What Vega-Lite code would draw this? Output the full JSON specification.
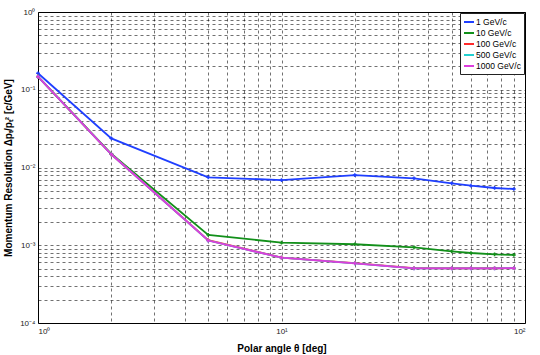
{
  "$schema": "https://vega.github.io/schema/vega-lite/v6.json",
  "width": 487,
  "height": 311,
  "autosize": "none",
  "padding": {"left": 38, "top": 12, "right": 15, "bottom": 32},
  "background": "white",
  "config": {
    "font": "Liberation Sans",
    "view": {"stroke": "black", "strokeWidth": 1},
    "axis": {
      "grid": true,
      "gridColor": "#000",
      "gridDash": [3, 3],
      "gridOpacity": 0.7,
      "gridWidth": 0.8,
      "ticks": false,
      "domain": false,
      "labelFont": "Liberation Sans",
      "labelFontSize": 8,
      "labelColor": "#222",
      "titleFont": "Liberation Sans",
      "titleFontSize": 10,
      "titleFontWeight": "bold",
      "titleColor": "#000"
    }
  },
  "data": {
    "values": [
      {"angle": 1, "res": 0.163, "p": "1 GeV/c"},
      {"angle": 2, "res": 0.0237, "p": "1 GeV/c"},
      {"angle": 5, "res": 0.00748, "p": "1 GeV/c"},
      {"angle": 10, "res": 0.0069, "p": "1 GeV/c"},
      {"angle": 20, "res": 0.0080, "p": "1 GeV/c"},
      {"angle": 35, "res": 0.00726, "p": "1 GeV/c"},
      {"angle": 50, "res": 0.00626, "p": "1 GeV/c"},
      {"angle": 60, "res": 0.00583, "p": "1 GeV/c"},
      {"angle": 75, "res": 0.00545, "p": "1 GeV/c"},
      {"angle": 90, "res": 0.00529, "p": "1 GeV/c"},
      {"angle": 1, "res": 0.148, "p": "10 GeV/c"},
      {"angle": 2, "res": 0.0150, "p": "10 GeV/c"},
      {"angle": 5, "res": 0.00136, "p": "10 GeV/c"},
      {"angle": 10, "res": 0.00108, "p": "10 GeV/c"},
      {"angle": 20, "res": 0.00103, "p": "10 GeV/c"},
      {"angle": 35, "res": 0.00094, "p": "10 GeV/c"},
      {"angle": 50, "res": 0.000835, "p": "10 GeV/c"},
      {"angle": 60, "res": 0.000795, "p": "10 GeV/c"},
      {"angle": 75, "res": 0.000764, "p": "10 GeV/c"},
      {"angle": 90, "res": 0.00075, "p": "10 GeV/c"},
      {"angle": 1, "res": 0.147, "p": "100 GeV/c"},
      {"angle": 2, "res": 0.0148, "p": "100 GeV/c"},
      {"angle": 5, "res": 0.00116, "p": "100 GeV/c"},
      {"angle": 10, "res": 0.000695, "p": "100 GeV/c"},
      {"angle": 20, "res": 0.000588, "p": "100 GeV/c"},
      {"angle": 35, "res": 0.000507, "p": "100 GeV/c"},
      {"angle": 50, "res": 0.000506, "p": "100 GeV/c"},
      {"angle": 60, "res": 0.000506, "p": "100 GeV/c"},
      {"angle": 75, "res": 0.000506, "p": "100 GeV/c"},
      {"angle": 90, "res": 0.000507, "p": "100 GeV/c"},
      {"angle": 1, "res": 0.147, "p": "500 GeV/c"},
      {"angle": 2, "res": 0.0148, "p": "500 GeV/c"},
      {"angle": 5, "res": 0.00115, "p": "500 GeV/c"},
      {"angle": 10, "res": 0.000692, "p": "500 GeV/c"},
      {"angle": 20, "res": 0.000585, "p": "500 GeV/c"},
      {"angle": 35, "res": 0.000505, "p": "500 GeV/c"},
      {"angle": 50, "res": 0.000505, "p": "500 GeV/c"},
      {"angle": 60, "res": 0.000505, "p": "500 GeV/c"},
      {"angle": 75, "res": 0.000505, "p": "500 GeV/c"},
      {"angle": 90, "res": 0.000507, "p": "500 GeV/c"},
      {"angle": 1, "res": 0.147, "p": "1000 GeV/c"},
      {"angle": 2, "res": 0.0148, "p": "1000 GeV/c"},
      {"angle": 5, "res": 0.00115, "p": "1000 GeV/c"},
      {"angle": 10, "res": 0.000692, "p": "1000 GeV/c"},
      {"angle": 20, "res": 0.000585, "p": "1000 GeV/c"},
      {"angle": 35, "res": 0.000505, "p": "1000 GeV/c"},
      {"angle": 50, "res": 0.000505, "p": "1000 GeV/c"},
      {"angle": 60, "res": 0.000505, "p": "1000 GeV/c"},
      {"angle": 75, "res": 0.000505, "p": "1000 GeV/c"},
      {"angle": 90, "res": 0.000507, "p": "1000 GeV/c"}
    ]
  },
  "encoding": {
    "x": {
      "field": "angle",
      "type": "quantitative",
      "scale": {"type": "log", "domain": [1, 100], "nice": false},
      "axis": {
        "title": "Polar angle θ [deg]",
        "titlePadding": 8,
        "labelPadding": 4,
        "values": [1, 2, 3, 4, 5, 6, 7, 8, 9, 10, 20, 30, 40, 50, 60, 70, 80, 90, 100],
        "labelExpr": "datum.value == 1 ? '10⁰' : datum.value == 10 ? '10¹' : datum.value == 100 ? '10²' : ''"
      }
    },
    "y": {
      "field": "res",
      "type": "quantitative",
      "scale": {"type": "log", "domain": [0.0001, 1], "nice": false},
      "axis": {
        "title": "Momentum Resolution Δpₜ/pₜ² [c/GeV]",
        "titlePadding": 6,
        "labelPadding": 3,
        "values": [0.0001, 0.0002, 0.0003, 0.0004, 0.0005, 0.0006, 0.0007, 0.0008, 0.0009, 0.001, 0.002, 0.003, 0.004, 0.005, 0.006, 0.007, 0.008, 0.009, 0.01, 0.02, 0.03, 0.04, 0.05, 0.06, 0.07, 0.08, 0.09, 0.1, 0.2, 0.3, 0.4, 0.5, 0.6, 0.7, 0.8, 0.9, 1],
        "labelExpr": "datum.value == 1 ? '10⁰' : datum.value == 0.1 ? '10⁻¹' : datum.value == 0.01 ? '10⁻²' : datum.value == 0.001 ? '10⁻³' : datum.value == 0.0001 ? '10⁻⁴' : ''"
      }
    },
    "color": {
      "field": "p",
      "type": "nominal",
      "sort": null,
      "scale": {
        "domain": ["1 GeV/c", "10 GeV/c", "100 GeV/c", "500 GeV/c", "1000 GeV/c"],
        "range": ["#1f3fff", "#12901a", "#ff2a2a", "#22d0d0", "#dd3ddd"]
      },
      "legend": {
        "title": null,
        "orient": "top-right",
        "offset": 1,
        "symbolType": "stroke",
        "symbolStrokeWidth": 2,
        "symbolSize": 100,
        "labelFontSize": 8.5,
        "labelColor": "#000",
        "labelFont": "Liberation Sans",
        "rowPadding": 0,
        "padding": 3,
        "fillColor": "white",
        "strokeColor": "#222",
        "labelOffset": 1
      }
    },
    "order": {"field": "angle", "type": "quantitative"}
  },
  "layer": [
    {
      "mark": {"type": "line", "strokeWidth": 1.8}
    },
    {
      "mark": {"type": "point", "shape": "cross", "size": 14, "filled": true, "opacity": 1}
    }
  ]
}
